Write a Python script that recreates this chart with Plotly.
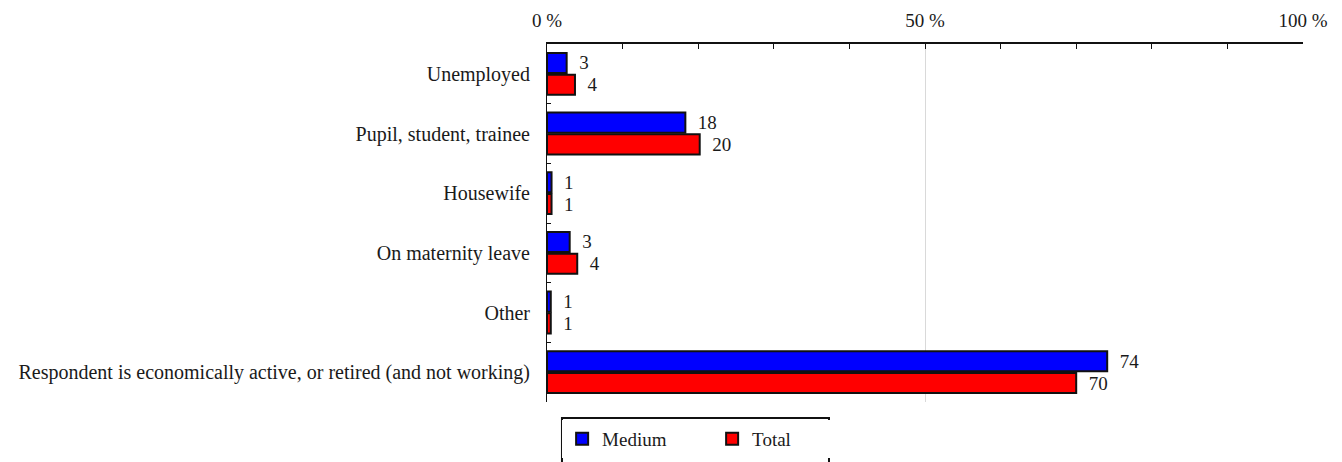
import plotly.graph_objects as go

categories = ['Unemployed', 'Pupil, student, trainee', 'Housewife', 'On maternity leave', 'Other',
              'Respondent is economically active, or retired (and not working)']
medium = [2.6, 18.3, 0.6, 3.0, 0.5, 74.1]
total = [3.7, 20.2, 0.6, 4.0, 0.5, 70.0]

font = 'Liberation Serif'
ink = '#1a1a1a'
fsize = 19

fig = go.Figure()
for name, vals, col in [('Medium', medium, '#0000ff'), ('Total', total, '#ff0000')]:
  fig.add_trace(go.Bar(
    y=categories,
    x=vals,
    name=name,
    orientation='h',
    marker=dict(color=col, line=dict(color='#111111', width=2)),
    text=vals,
    texttemplate='  %{x:.0f}',
    textposition='outside',
    constraintext='none',
    textfont=dict(size=fsize, color=ink, family=font),
    cliponaxis=False,
  ))

# the page body adds an 8px offset, so margins are shifted
fig.update_layout(
  width=1342,
  height=462,
  barmode='group',
  bargap=0.27,
  bargroupgap=0.08,
  paper_bgcolor='white',
  plot_bgcolor='white',
  font=dict(family=font, size=fsize, color=ink),
  margin=dict(l=539, r=47, t=36, b=65, pad=0),
  showlegend=True,
  legend=dict(
    orientation='h',
    x=0.02,
    xanchor='left',
    y=-0.05,
    yanchor='top',
    borderwidth=0,
    font=dict(size=fsize, family=font),
    entrywidth=105,
    itemwidth=30,
  ),
  # legend frame drawn by hand so it hugs the two entries
  shapes=[dict(
    type='rect', xref='paper', yref='paper',
    x0=0.0198, x1=0.373, y0=-0.045, y1=-0.3,
    line=dict(color='#111111', width=2),
    fillcolor='rgba(0,0,0,0)',
  )],
)

fig.update_xaxes(
  side='top',
  range=[0, 100],
  dtick=50,
  tick0=0,
  ticksuffix=' %',
  ticks='inside',
  ticklen=5,
  tickcolor='#111111',
  showline=True,
  linecolor='#111111',
  linewidth=2,
  showgrid=True,
  gridcolor='#d9d9d9',
  gridwidth=1,
  zeroline=False,
  automargin=False,
  ticklabelstandoff=7,
  minor=dict(dtick=10, ticks='inside', ticklen=5, tickcolor='#111111', showgrid=False),
  tickfont=dict(size=fsize, family=font),
)

fig.update_yaxes(
  autorange='reversed',
  showline=True,
  linecolor='#111111',
  linewidth=1,
  ticks='inside',
  tickson='boundaries',
  ticklen=4,
  tickcolor='#111111',
  showgrid=False,
  automargin=False,
  ticklabelstandoff=12,
  tickfont=dict(size=20, family=font),
)

fig.write_html('out.html')
